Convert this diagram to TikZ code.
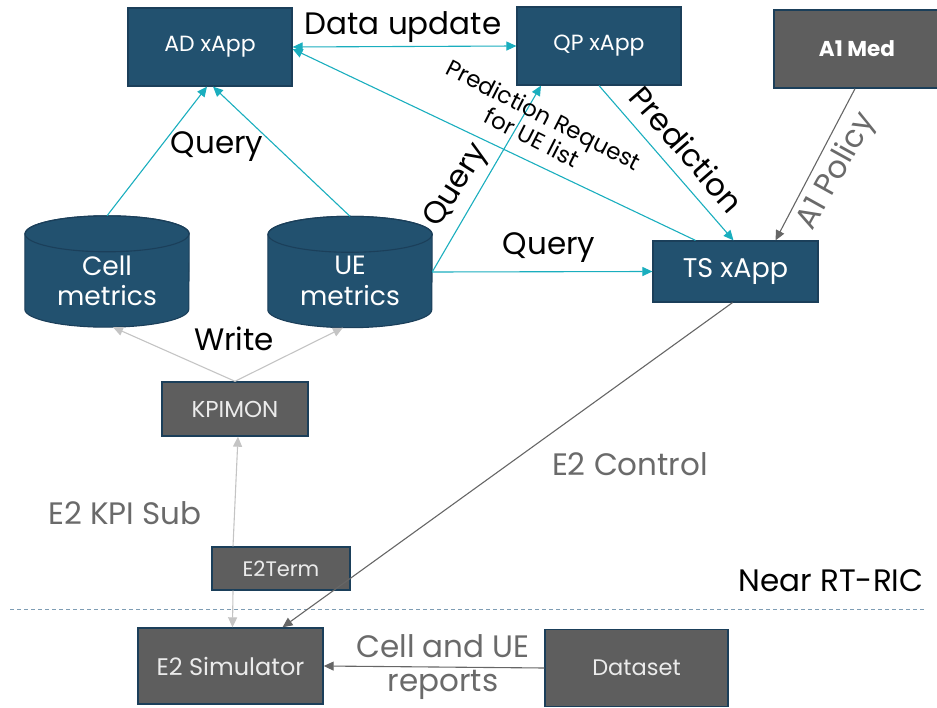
\documentclass[tikz,border=0pt]{standalone}
\usepackage{fontspec}
\setmainfont{Poppins}
\usetikzlibrary{arrows.meta}
\definecolor{boxblue}{HTML}{22516F}
\definecolor{edgeblue}{HTML}{1B3F5A}
\definecolor{boxgray}{HTML}{5E5E5E}
\definecolor{linkcyan}{HTML}{1AAEBE}
\definecolor{lightlink}{HTML}{C4C4C4}
\definecolor{darklink}{HTML}{666666}
\definecolor{labelgray}{HTML}{6A6A6A}
\definecolor{sepline}{HTML}{7E9DB4}
\newcommand{\fs}[1]{\fontsize{#1}{#1}\selectfont}
\begin{document}
\begin{tikzpicture}[x=1pt,y=-1pt,
  bluebox/.style={draw=edgeblue,line width=1.2pt,fill=boxblue,text=white,
    minimum width=164pt,minimum height=78pt,inner sep=0pt},
  graybox/.style={draw=edgeblue,line width=1.4pt,fill=boxgray,text=white!92!black,inner sep=0pt},
  dbase/.style={minimum width=164pt,minimum height=111pt,inner sep=0pt},
  cylbody/.style={fill=boxblue,draw=edgeblue,line width=1.1pt},
  tip/.style={-{Triangle[length=10pt,width=9pt]}},
  cyanarrow/.style={draw=linkcyan,line width=1.1pt,tip},
  lightarrow/.style={draw=lightlink,line width=1.1pt,tip},
  darkarrow/.style={draw=darklink,line width=1.1pt,tip},
  blacklabel/.style={text=black,font=\fs{31}},
  graylabel/.style={text=labelgray,font=\fs{31}}
]
\useasboundingbox (0,0) rectangle (937,708);

% xApp boxes
\node[bluebox,font=\fs{22}] (ad) at (210,47) {AD xApp};
\node[bluebox,font=\fs{22}] (qp) at (599,46) {QP xApp};
\node[bluebox,font=\fs{27},minimum height=61pt,minimum width=165pt] (ts) at (735.5,271.5) {TS xApp};
\node[graybox,minimum width=166pt,minimum height=78pt] (a1) at (857,49) {};
\node[text=white,font=\fs{21.5}\bfseries] (a1t) at (857,49) {A1 Med};

% database cylinders
\node[dbase] (cell) at (107,271.5) {};
\node[dbase] (ue) at (350,272) {};
\foreach \db in {cell,ue}{
  \path[cylbody] ([yshift=-18pt]\db.north west) -- ([yshift=18pt]\db.south west)
    arc[start angle=180,end angle=0,x radius=82,y radius=18]
    -- ([yshift=-18pt]\db.north east)
    arc[start angle=0,end angle=-180,x radius=82,y radius=18] -- cycle;
  \draw[edgeblue,line width=1.1pt] ([yshift=-18pt]\db.north) ellipse[x radius=82,y radius=18];
}
\node[text=white,align=center,font=\fs{26.5}] (cellt) at (107,281) {Cell\\[4pt]metrics};
\node[text=white,align=center,font=\fs{26.5}] (uet) at (350,281) {UE\\[4pt]metrics};

% platform and RAN side boxes
\node[graybox,minimum width=146pt,minimum height=54pt,font=\fs{23}] (kpimon) at (235,409) {KPIMON};
\node[graybox,minimum width=138pt,minimum height=43pt,font=\fs{21}] (e2term) at (281,568.5) {E2Term};
\node[graybox,minimum width=185pt,minimum height=76pt,font=\fs{24}] (e2sim) at (230.5,666) {E2 Simulator};
\node[graybox,minimum width=183pt,minimum height=77pt,font=\fs{22.5}] (dataset) at (636.5,668) {Dataset};

% boundary of the near real-time RIC
\coordinate (sepL) at (10,609);
\coordinate (sepR) at (925,609);
\draw[sepline,line width=1pt,dash pattern=on 4pt off 3pt] (sepL) -- (sepR);
\node[blacklabel] (ric) at (831,581) {Near RT-RIC};

% cyan data-flow links
\draw[cyanarrow,{Triangle[length=10pt,width=9pt]}-{Triangle[length=10pt,width=9pt]}] (ad.east) -- (qp.west);
\draw[cyanarrow] ([xshift=-40pt]ts.north) -- ([yshift=-2pt]ad.east);
\draw[cyanarrow] (ue.east) -- (ts.west);
\draw[cyanarrow] (ue.east) -- ([xshift=-58pt]qp.south);
\draw[cyanarrow] (qp.south) -- ([xshift=-2pt]ts.north);
\draw[cyanarrow] (cell.north) -- ([xshift=-3pt]ad.south);
\draw[cyanarrow] (ue.north) -- ([xshift=3pt]ad.south);

% gray control links
\draw[darkarrow] ([xshift=-2pt]a1.south) -- ([xshift=40pt]ts.north);
\draw[lightarrow] (kpimon.north) -- ([xshift=6pt]cell.south);
\draw[lightarrow] (kpimon.north) -- ([xshift=-7pt]ue.south);
\draw[lightarrow] ([xshift=-48pt]e2term.north) -- ([xshift=3pt]kpimon.south);
\draw[lightarrow] ([xshift=-48pt]e2term.south) -- ([xshift=2pt]e2sim.north);
\draw[darkarrow] ([xshift=-3pt]ts.south) -- ([xshift=52pt]e2sim.north);
\draw[darkarrow] (dataset.west) -- (e2sim.east);

% link labels
\node[blacklabel] (ldata) at (403,27) {Data update};
\node[blacklabel] (lq1) at (217,147) {Query};
\node[blacklabel,rotate=58] (lq2) at (457,186) {Query};
\node[blacklabel] (lq3) at (549,248) {Query};
\node[text=black,font=\fs{23},align=center,rotate=-27] (lpr) at (538,126) {Prediction Request\\[1pt]for UE list};
\node[blacklabel,rotate=-49] (lpred) at (687,149) {Prediction};
\node[graylabel,rotate=61] (la1) at (837,172) {A1 Policy};
\node[blacklabel] (lwrite) at (234,339) {Write};
\node[graylabel] (lkpi) at (125,513) {E2 KPI Sub};
\node[graylabel] (lctl) at (630,464) {E2 Control};
\node[graylabel,align=center] (lrep) at (443,667) {Cell and UE\\[3pt]reports};
\end{tikzpicture}
\end{document}
